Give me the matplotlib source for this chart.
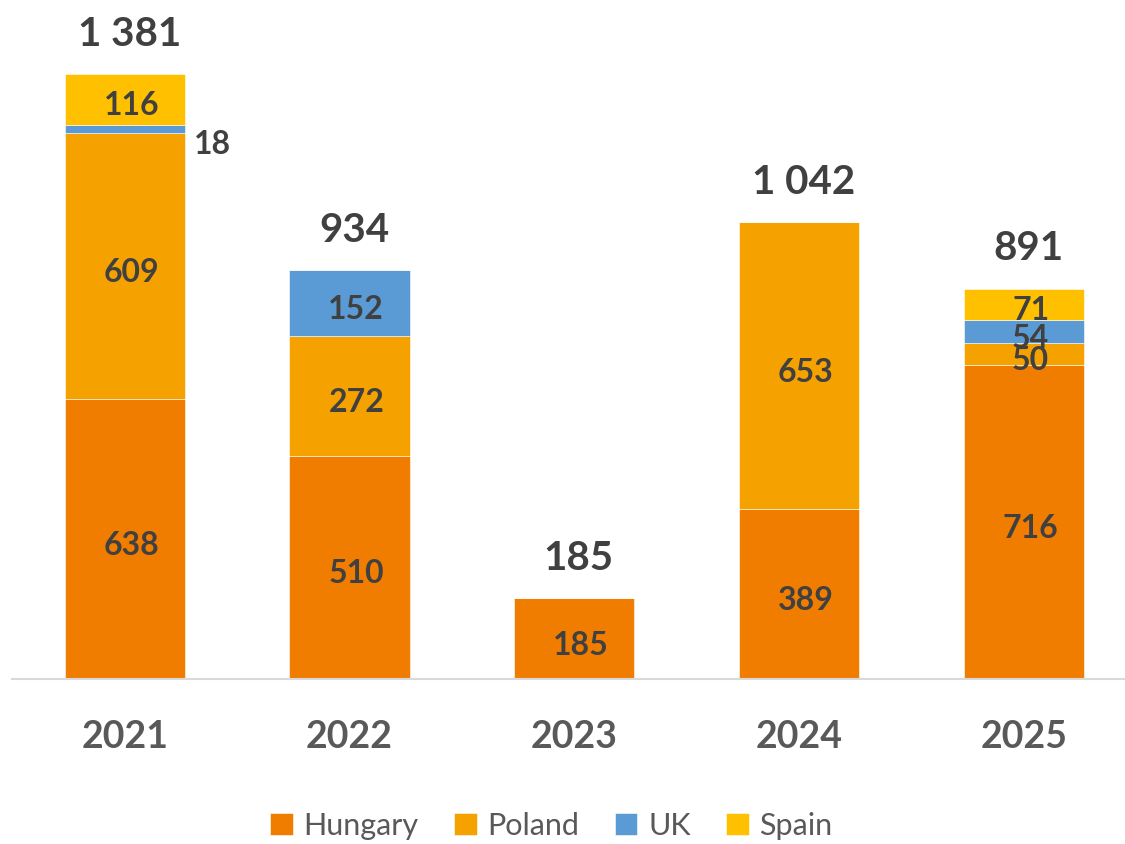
import matplotlib
matplotlib.use("Agg")
import matplotlib.pyplot as plt
import numpy as np

plt.rcParams['font.family'] = ['Lato', 'DejaVu Sans']

years = ['2021', '2022', '2023', '2024', '2025']
hungary = [638, 510, 185, 389, 716]
poland = [609, 272, 0, 653, 50]
uk = [18, 152, 0, 0, 54]
spain = [116, 0, 0, 0, 71]

series = [('Hungary', hungary, '#F07D00'),
          ('Poland', poland, '#F5A100'),
          ('UK', uk, '#5B9BD5'),
          ('Spain', spain, '#FFC000')]

fig = plt.figure(figsize=(11.25, 8.45), dpi=100)
ax = fig.add_axes([0.011, 0.1953, 0.989, 0.8047])

x = np.arange(len(years))
bottom = np.zeros(len(years))
lab_col = '#404040'
for name, vals, col in series:
    vals = np.array(vals)
    ax.bar(x, vals, 0.535, bottom=bottom, color=col, label=name,
           edgecolor='white', linewidth=0.4)
    for i, v in enumerate(vals):
        if v == 0:
            continue
        yc = bottom[i] + v / 2
        if name == 'UK' and years[i] == '2021':
            # small segment: label outside the bar
            ax.annotate(str(v), (x[i] + 0.39, yc), xytext=(0, -11),
                        textcoords='offset points', ha='center', va='center',
                        fontsize=23, fontweight='bold', color=lab_col)
        else:
            ax.annotate(str(v), (x[i] + 0.03, yc), xytext=(0, -4),
                        textcoords='offset points', ha='center', va='center',
                        fontsize=23, fontweight='bold', color=lab_col)
    bottom += vals

for i, t in enumerate(bottom):
    s = f'{int(t):,}'.replace(',', ' ')
    ax.annotate(s, (x[i] + 0.02, t), xytext=(0, 16), textcoords='offset points',
                ha='center', va='bottom', fontsize=29, fontweight='bold',
                color=lab_col)

ax.set_xlim(-0.5, 4.45)
ax.set_ylim(0, 1552)
ax.set_xticks(x)
ax.set_xticklabels(years, fontsize=27, fontweight='bold', color='#595959')
ax.tick_params(axis='x', length=0, pad=29)
ax.set_yticks([])
for sp in ['top', 'left', 'right']:
    ax.spines[sp].set_visible(False)
ax.spines['bottom'].set_color('#D9D9D9')
ax.spines['bottom'].set_linewidth(1.5)

leg = fig.legend(loc='center', bbox_to_anchor=(0.49, 0.022), ncol=4,
                 frameon=False, fontsize=22, handlelength=0.75, handleheight=0.75,
                 handletextpad=0.35, columnspacing=1.15)
for t in leg.get_texts():
    t.set_color('#595959')

fig.savefig('out.png', dpi=100)
